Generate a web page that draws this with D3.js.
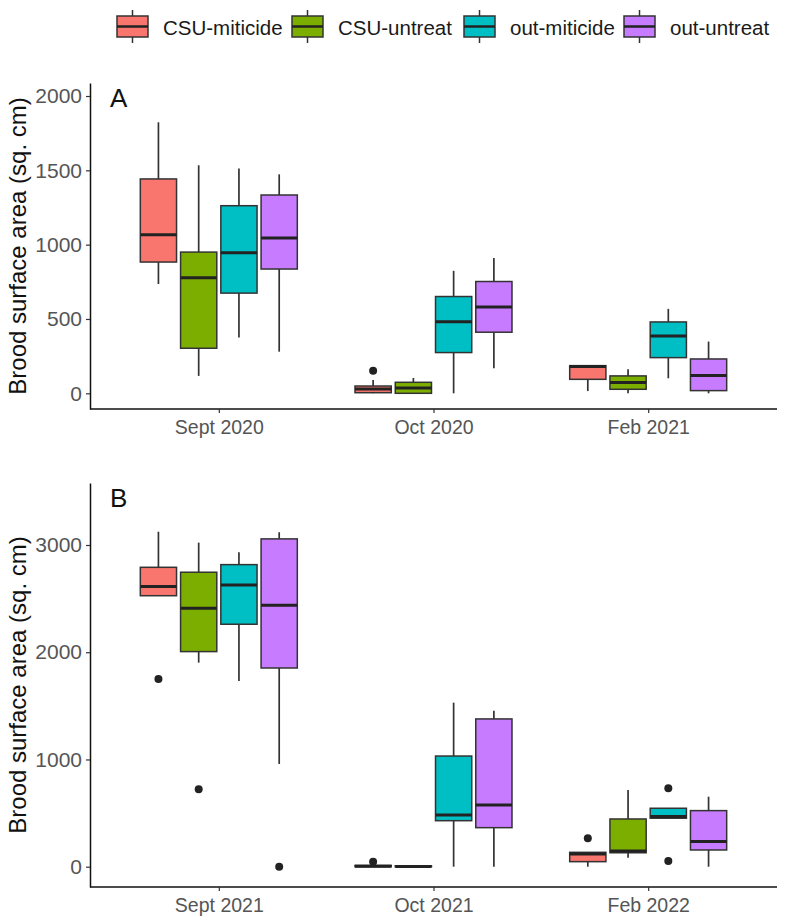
<!DOCTYPE html>
<head>
  <meta charset="utf-8">
  <script src="https://d3js.org/d3.v7.min.js"></script>
  <style>
    body { margin:0; background:#fff; }
    svg { display:block; font-family:"Liberation Sans", Arial, sans-serif; }
  </style>
</head>
<body>
<script>
// groups and periods
var treatments = ["CSU-miticide", "CSU-untreat", "out-miticide", "out-untreat"];
var colors = ["#F8766D", "#7CAE00", "#00BFC4", "#C77CFF"];

var periodsA = ["Sept 2020", "Oct 2020", "Feb 2021"];
var periodsB = ["Sept 2021", "Oct 2021", "Feb 2022"];

// box stats per period, per treatment: [low whisker, q1, median, q3, high whisker]
var statsA = [
  [[735, 883, 1067, 1442, 1823], [117, 303, 777, 950, 1534], [375, 674, 945, 1262, 1513], [280, 836, 1044, 1334, 1473]],
  [[0, 4, 29, 49, 90], [0, 0, 36, 74, 103], [0, 274, 482, 651, 824], [168, 411, 580, 752, 910]],
  [[15, 94, 180, 186, 186], [0, 27, 72, 117, 162], [101, 240, 386, 480, 568], [0, 18, 119, 231, 348]]
];
var statsB = [
  [[2527, 2527, 2614, 2792, 3124], [1903, 2006, 2410, 2746, 3022], [1732, 2261, 2628, 2817, 2933], [958, 1853, 2438, 3057, 3119]],
  [[0, 0, 4, 12, 12], [0, 0, 3, 8, 8], [0, 429, 482, 1032, 1530], [0, 364, 575, 1378, 1455]],
  [[0, 47, 118, 134, 134], [84, 130, 146, 445, 716], [452, 452, 467, 545, 545], [0, 156, 234, 523, 653]]
];

// outliers: [period index, treatment index, value]
var outliersA = [[1, 0, 152]];
var outliersB = [[0, 0, 1751], [0, 1, 723], [0, 3, 0], [1, 0, 45], [2, 0, 265], [2, 2, 731], [2, 2, 53]];

var ticksA = [0, 500, 1000, 1500, 2000];
var ticksB = [0, 1000, 2000, 3000];

var W = 786, H = 923;
var svg = d3.select("body").append("svg").attr("width", W).attr("height", H);

// legend
var legendX = [117, 292, 464, 624];
var lg = svg.append("g");
treatments.forEach(function(t, i) {
  var g = lg.append("g").attr("transform", "translate(" + legendX[i] + ",16)");
  g.append("line").attr("x1", 15.5).attr("x2", 15.5).attr("y1", -6).attr("y2", 27)
    .attr("stroke", "#333").attr("stroke-width", 1.5);
  g.append("rect").attr("width", 31).attr("height", 21)
    .attr("fill", colors[i]).attr("stroke", "#333").attr("stroke-width", 1.5);
  g.append("line").attr("x1", 0).attr("x2", 31).attr("y1", 10.5).attr("y2", 10.5)
    .attr("stroke", "#222").attr("stroke-width", 2.5);
  g.append("text").attr("x", 46).attr("y", 19).attr("font-size", 20.5)
    .attr("fill", "#1a1a1a").text(t);
});

function panel(periods, stats, outliers, ticks, top, bottom, label, zeroY, topTickY) {
  var left = 90, right = 777;
  var x = d3.scalePoint().domain(periods).range([left, right]).padding(0.6);
  var step = x.step();
  var sub = d3.scaleBand().domain(treatments)
    .range([-0.375 * step, 0.375 * step]).paddingInner(0.1).paddingOuter(0.05);
  var tmax = ticks[ticks.length - 1];
  var y = d3.scaleLinear().domain([0, tmax]).range([zeroY, topTickY]);
  y.domain([y.invert(bottom), y.invert(top)]).range([bottom, top]);

  var g = svg.append("g");

  // boxes
  periods.forEach(function(p, pi) {
    treatments.forEach(function(t, ti) {
      var s = stats[pi][ti];
      var cx = x(p) + sub(t) + sub.bandwidth() / 2;
      var bw = sub.bandwidth();
      var b = g.append("g");
      b.append("line").attr("x1", cx).attr("x2", cx).attr("y1", y(s[0])).attr("y2", y(s[1]))
        .attr("stroke", "#333").attr("stroke-width", 1.7);
      b.append("line").attr("x1", cx).attr("x2", cx).attr("y1", y(s[3])).attr("y2", y(s[4]))
        .attr("stroke", "#333").attr("stroke-width", 1.7);
      b.append("rect").attr("x", cx - bw / 2).attr("width", bw)
        .attr("y", y(s[3])).attr("height", Math.max(0.5, y(s[1]) - y(s[3])))
        .attr("fill", colors[ti]).attr("stroke", "#333").attr("stroke-width", 1.5);
      b.append("line").attr("x1", cx - bw / 2).attr("x2", cx + bw / 2)
        .attr("y1", y(s[2])).attr("y2", y(s[2]))
        .attr("stroke", "#222").attr("stroke-width", 3);
    });
  });

  outliers.forEach(function(o) {
    var cx = x(periods[o[0]]) + sub(treatments[o[1]]) + sub.bandwidth() / 2;
    g.append("circle").attr("cx", cx).attr("cy", y(o[2])).attr("r", 4).attr("fill", "#222");
  });

  // axes
  var ya = g.append("g").attr("transform", "translate(" + left + ",0)")
    .call(d3.axisLeft(y).tickValues(ticks).tickFormat(d3.format("d"))
      .tickSize(4).tickPadding(4).tickSizeOuter(0));
  ya.select(".domain").attr("stroke", "#111").attr("stroke-width", 1.5);
  ya.selectAll(".tick line").attr("stroke", "#333").attr("stroke-width", 1.2);
  ya.selectAll(".tick text").attr("font-size", 21).attr("fill", "#555")
    .attr("font-family", "'Liberation Sans', Arial, sans-serif");

  var xa = g.append("g").attr("transform", "translate(0," + bottom + ")")
    .call(d3.axisBottom(x).tickSize(4).tickPadding(7).tickSizeOuter(0));
  xa.select(".domain").attr("stroke", "#111").attr("stroke-width", 1.5);
  xa.selectAll(".tick line").attr("stroke", "#333").attr("stroke-width", 1.2);
  xa.selectAll(".tick text").attr("font-size", 19.5).attr("fill", "#555")
    .attr("font-family", "'Liberation Sans', Arial, sans-serif");
  xa.select(".domain").attr("d", "M" + left + ",0H" + right);

  g.append("text")
    .attr("transform", "translate(26," + ((top + bottom) / 2) + ") rotate(-90)")
    .attr("text-anchor", "middle").attr("font-size", 24).attr("fill", "#111")
    .text("Brood surface area (sq. cm)");

  g.append("text").attr("x", 110).attr("y", top + 24).attr("font-size", 26)
    .attr("fill", "#111").text(label);
}

panel(periodsA, statsA, outliersA, ticksA, 83, 409, "A", 393.3, 96);
panel(periodsB, statsB, outliersB, ticksB, 483, 887, "B", 866.7, 545);
</script>
</body>
